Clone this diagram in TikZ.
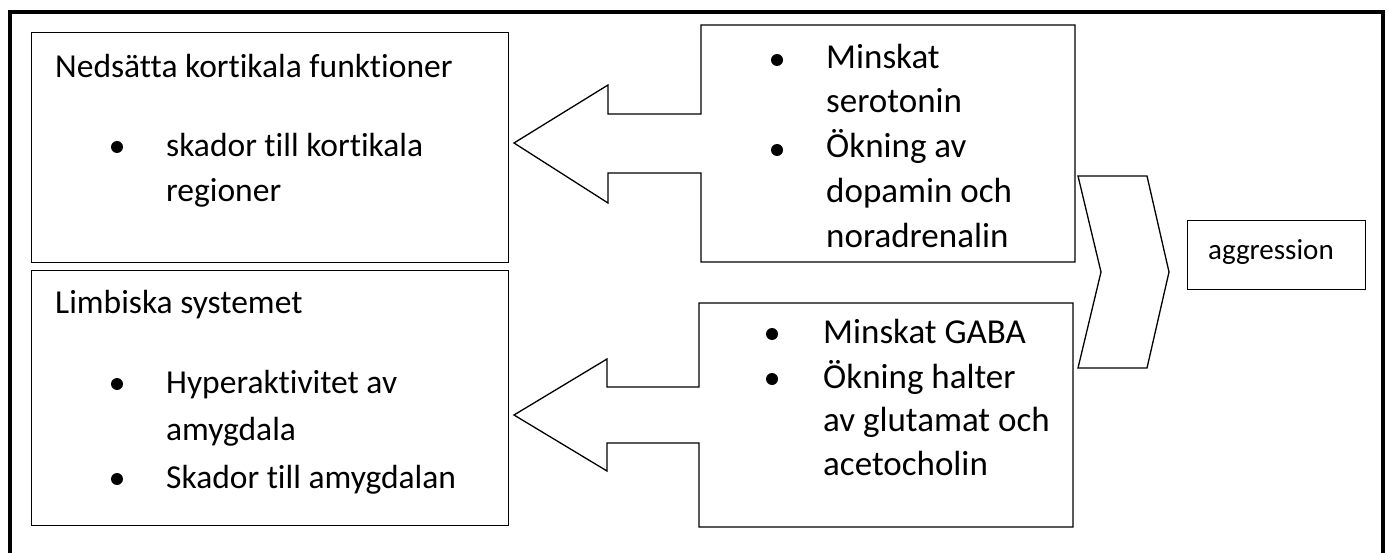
\documentclass[tikz,border=0pt]{standalone}
\usepackage{fontspec}
\setmainfont{Carlito}[Ligatures=NoCommon]
\usetikzlibrary{positioning}

\begin{document}
\begin{tikzpicture}[x=1pt,y=-1pt,
    frame/.style={draw,line width=1.3pt,inner sep=0pt,anchor=north west},
    lefttxt/.style={anchor=base west,inner sep=0pt,font=\fontsize{33.5}{40}\selectfont},
    righttxt/.style={anchor=base west,inner sep=0pt,font=\fontsize{35}{42}\selectfont},
    dot/.style={fill,circle,inner sep=0pt,minimum size=12pt}]
  \useasboundingbox (0,0) rectangle (1389,553);
  % outer frame, its bottom edge is off the page
  \draw[line width=3.5pt] (10,560) -- (10,12) -- (1383,12) -- (1383,560);

  % left boxes
  \node[frame,minimum width=477pt,minimum height=230pt] (kortbox) at (31,32) {};
  \node[frame,minimum width=477pt,minimum height=255pt] (limbbox) at (31,270) {};

  \node[lefttxt] (kort) at (55,78) {Nedsätta kortikala funktioner};
  \node[dot] (kd1) at (117,147) {};
  \node[lefttxt] (kort1) at (166,157) {skador till kortikala};
  \node[lefttxt] (kort2) at (166,202) {regioner};

  \node[lefttxt] (limb) at (55,313) {Limbiska systemet};
  \node[dot] (ld1) at (117,384) {};
  \node[lefttxt] (limb1) at (166,393) {Hyperaktivitet av};
  \node[lefttxt] (limb2) at (166,440) {amygdala};
  \node[dot] (ld2) at (117,479) {};
  \node[lefttxt] (limb3) at (166,488) {Skador till amygdalan};

  % callouts pointing left
  \draw[line width=1.3pt] (701,25) coordinate (sA) -- (1075,25) -- (1075,262) -- (701,262)
    -- (701,173) -- (608,173) -- (608,203) -- (514,143) coordinate (stip)
    -- (608,85) -- (608,114) -- (701,114) -- cycle;
  \draw[line width=1.3pt] (699,303) coordinate (gA) -- (1073,303) -- (1073,527) -- (699,527)
    -- (699,443) -- (607,443) -- (607,471) -- (514,415) coordinate (gtip)
    -- (607,359) -- (607,387) -- (699,387) -- cycle;

  \node[dot] (sd1) at (777,60) {};
  \node[righttxt] (sero1) at (826,69) {Minskat};
  \node[righttxt] (sero2) at (826,113) {serotonin};
  \node[dot] (sd2) at (777,150) {};
  \node[righttxt] (sero3) at (826,158) {Ökning av};
  \node[righttxt] (sero4) at (826,203) {dopamin och};
  \node[righttxt] (sero5) at (826,248) {noradrenalin};

  \node[dot] (gd1) at (772,334) {};
  \node[righttxt] (gaba1) at (823,343) {Minskat GABA};
  \node[dot] (gd2) at (772,379) {};
  \node[righttxt] (gaba2) at (823,388) {Ökning halter};
  \node[righttxt] (gaba3) at (823,431) {av glutamat och};
  \node[righttxt] (gaba4) at (823,475) {acetocholin};

  % chevron and result
  \draw[line width=1.3pt] (1078,176) coordinate (cA) -- (1147,176) -- (1169,272) coordinate (ctip)
    -- (1147,368) -- (1078,368) -- (1101,272) -- cycle;
  \node[frame,minimum width=178pt,minimum height=69pt] (aggbox) at (1187,220) {};
  \node[anchor=base west,inner sep=0pt,font=\fontsize{29}{34}\selectfont] (agg) at (1208,260) {aggression};
\end{tikzpicture}
\end{document}
